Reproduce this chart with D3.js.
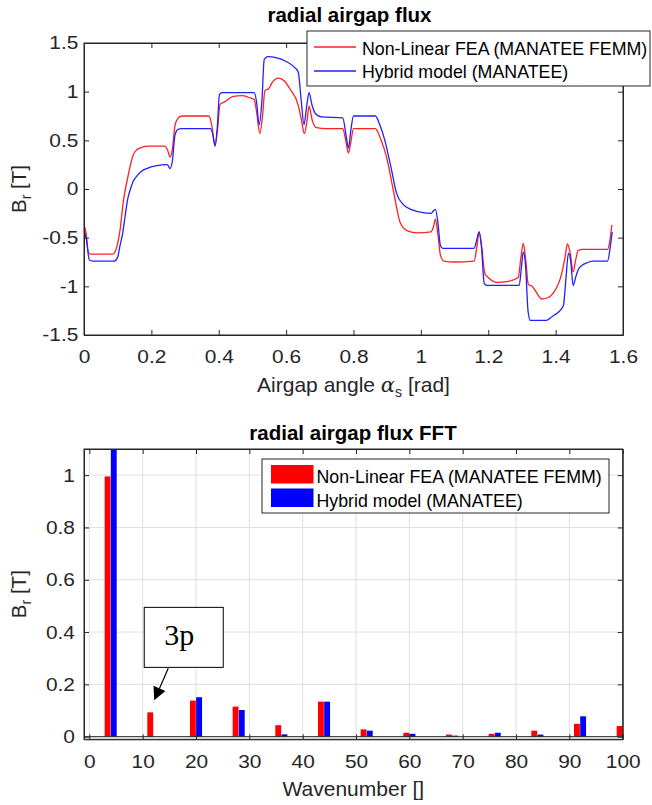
<!DOCTYPE html>
<html><head><meta charset="utf-8">
<script src="https://cdn.jsdelivr.net/npm/d3@7/dist/d3.min.js"></script>
<style>
body{margin:0;background:#fff}
svg{display:block}
</style>
</head><body>
<svg id="c" width="652" height="805" font-family="Arial, 'Liberation Sans', Helvetica, sans-serif"></svg>
<script>
// ---------- DATA ----------
const seriesNames = ["Non-Linear FEA (MANATEE FEMM)", "Hybrid model (MANATEE)"];

// radial airgap flux, Non-Linear FEA
const fluxAngleRed = [0.000,0.006,0.013,0.020,0.085,0.095,0.107,0.117,0.130,0.146,0.156,0.166,0.190,0.240,0.248,0.255,0.262,0.270,0.278,0.290,0.370,0.378,0.389,0.396,0.404,0.420,0.440,0.470,0.490,0.505,0.512,0.522,0.530,0.537,0.548,0.560,0.577,0.595,0.611,0.636,0.646,0.654,0.662,0.668,0.678,0.690,0.720,0.768,0.778,0.785,0.792,0.800,0.865,0.880,0.898,0.918,0.938,0.948,0.960,0.990,1.030,1.038,1.043,1.050,1.058,1.068,1.100,1.158,1.166,1.173,1.180,1.190,1.200,1.225,1.260,1.289,1.297,1.304,1.311,1.319,1.330,1.339,1.359,1.375,1.393,1.418,1.428,1.435,1.443,1.452,1.460,1.467,1.480,1.554,1.560,1.567];
const fluxRed = [-0.37,-0.45,-0.65,-0.67,-0.67,-0.62,-0.42,-0.12,0.12,0.35,0.40,0.42,0.44,0.44,0.40,0.33,0.40,0.65,0.72,0.75,0.75,0.68,0.45,0.60,0.87,0.90,0.95,0.96,0.94,0.92,0.80,0.57,0.75,1.01,1.03,1.10,1.14,1.11,1.03,0.86,0.70,0.57,0.70,0.85,0.70,0.63,0.62,0.62,0.48,0.37,0.48,0.62,0.62,0.52,0.33,-0.01,-0.34,-0.40,-0.43,-0.45,-0.44,-0.38,-0.31,-0.45,-0.68,-0.74,-0.75,-0.74,-0.60,-0.44,-0.58,-0.87,-0.91,-0.96,-0.95,-0.91,-0.70,-0.56,-0.72,-0.98,-1.00,-1.04,-1.13,-1.12,-1.07,-0.87,-0.70,-0.565,-0.65,-0.85,-0.72,-0.63,-0.62,-0.62,-0.55,-0.37];

// radial airgap flux, Hybrid model
const fluxAngleBlue = [0.000,0.007,0.016,0.025,0.090,0.100,0.107,0.115,0.122,0.130,0.137,0.146,0.156,0.170,0.186,0.216,0.245,0.250,0.255,0.262,0.270,0.278,0.290,0.376,0.383,0.389,0.396,0.402,0.410,0.505,0.512,0.520,0.528,0.535,0.545,0.570,0.600,0.625,0.636,0.645,0.653,0.661,0.668,0.677,0.686,0.705,0.768,0.778,0.785,0.792,0.800,0.865,0.878,0.893,0.913,0.928,0.948,0.970,0.988,1.030,1.038,1.043,1.050,1.058,1.065,1.158,1.166,1.173,1.180,1.188,1.195,1.292,1.298,1.304,1.311,1.318,1.325,1.373,1.390,1.403,1.423,1.430,1.438,1.445,1.452,1.460,1.467,1.480,1.492,1.510,1.554,1.562,1.568];
const fluxBlue = [-0.42,-0.52,-0.73,-0.74,-0.74,-0.70,-0.58,-0.45,-0.28,-0.10,-0.01,0.08,0.13,0.18,0.21,0.24,0.25,0.24,0.21,0.28,0.55,0.61,0.62,0.62,0.55,0.44,0.65,0.97,0.99,0.99,0.90,0.66,0.90,1.33,1.36,1.35,1.31,1.25,1.20,0.90,0.66,0.85,0.99,0.86,0.78,0.74,0.73,0.55,0.42,0.60,0.75,0.75,0.66,0.50,0.195,-0.045,-0.16,-0.21,-0.23,-0.25,-0.22,-0.21,-0.33,-0.58,-0.61,-0.61,-0.52,-0.44,-0.60,-0.97,-0.99,-0.99,-0.82,-0.65,-0.80,-1.25,-1.35,-1.35,-1.31,-1.28,-1.20,-0.95,-0.66,-0.75,-0.99,-0.90,-0.83,-0.78,-0.76,-0.74,-0.74,-0.60,-0.44];

// FFT
const wavenumbers = [4,12,20,28,36,44,52,60,68,76,84,92,100];
const fftRed  = [0.995,0.093,0.138,0.115,0.044,0.134,0.028,0.015,0.008,0.011,0.023,0.049,0.041];
const fftBlue = [1.16,0.0,0.151,0.102,0.009,0.134,0.023,0.011,0.004,0.015,0.008,0.078,0.02];

// ticks
const topXTicks = [0,0.2,0.4,0.6,0.8,1,1.2,1.4,1.6];
const topYTicks = [-1.5,-1,-0.5,0,0.5,1,1.5];
const botXTicks = [0,10,20,30,40,50,60,70,80,90,100];
const botYTicks = [0,0.2,0.4,0.6,0.8,1];

const annotationLabel = "3p";
const annotationWavenumber = 12;
const annotationValue = 0.093;

// ---------- DRAW ----------
const svg = d3.select("#c");
svg.append("rect").attr("width",652).attr("height",805).attr("fill","#fff");
const AX = "#262626";
const fmt = v => String(+v.toFixed(2));
const RED = "#ff0000", BLUE = "#0000ff";
const SANS = "Arial, 'Liberation Sans', Helvetica, sans-serif";

function styleAxis(g){
  g.attr("font-family",SANS).attr("font-size",null);
  g.selectAll(".domain").attr("stroke",AX);
  g.selectAll(".tick line").attr("stroke",AX);
  g.selectAll(".tick text").attr("fill",AX).style("font-size","18.5px")
    .attr("transform","scale(1.13,1)");
}
function frame(g, x, y, xt, yt, box, padX, padY){
  styleAxis(g.append("g").attr("transform",`translate(0,${box.b})`)
    .call(d3.axisBottom(x).tickValues(xt).tickFormat(fmt).tickSizeInner(-5).tickSizeOuter(0).tickPadding(padX)));
  styleAxis(g.append("g").attr("transform",`translate(0,${box.t})`)
    .call(d3.axisTop(x).tickValues(xt).tickFormat(()=>"").tickSizeInner(-5).tickSizeOuter(0)));
  styleAxis(g.append("g").attr("transform",`translate(${box.l},0)`)
    .call(d3.axisLeft(y).tickValues(yt).tickFormat(fmt).tickSizeInner(-5).tickSizeOuter(0).tickPadding(padY)));
  styleAxis(g.append("g").attr("transform",`translate(${box.r},0)`)
    .call(d3.axisRight(y).tickValues(yt).tickFormat(()=>"").tickSizeInner(-5).tickSizeOuter(0)));
  g.append("rect").attr("x",box.l).attr("y",box.t).attr("width",box.r-box.l).attr("height",box.b-box.t)
    .attr("fill","none").attr("stroke",AX).attr("stroke-width",1);
}
function yLabel(g, x, y){
  const t = g.append("text").attr("transform",`translate(${x},${y}) rotate(-90)`)
    .attr("text-anchor","middle").attr("fill",AX).style("font-size","20.5px");
  t.append("tspan").text("B");
  t.append("tspan").text("r").style("font-size","14px").attr("dy",5);
  t.append("tspan").text(" [T]").attr("dy",-5);
}

// ---- top chart ----
const T = {l:84, r:623, t:43, b:335};
const xT = d3.scaleLinear([0,1.6],[T.l,T.r]);
const yT = d3.scaleLinear([-1.5,1.5],[T.b,T.t]);
const gT = svg.append("g");
gT.append("clipPath").attr("id","clipT").append("rect")
  .attr("x",T.l).attr("y",T.t).attr("width",T.r-T.l).attr("height",T.b-T.t);
const line = d3.line().x(d=>xT(d[0])).y(d=>yT(d[1])).curve(d3.curveMonotoneX);
const redPts = fluxAngleRed.map((a,i)=>[a,fluxRed[i]]);
const bluePts = fluxAngleBlue.map((a,i)=>[a,fluxBlue[i]]);
const lines = gT.append("g").attr("clip-path","url(#clipT)");
lines.append("path").attr("d",line(redPts)).attr("fill","none").attr("stroke","#ff2020").attr("stroke-width",1.3);
lines.append("path").attr("d",line(bluePts)).attr("fill","none").attr("stroke","#2020ff").attr("stroke-width",1.3);
frame(gT, xT, yT, topXTicks, topYTicks, T, 15, 5);

gT.append("text").attr("x",(T.l+T.r)/2-4).attr("y",22).attr("text-anchor","middle")
  .attr("font-weight","bold").style("font-size","20.5px").attr("fill","#000").text("radial airgap flux");
yLabel(gT, 26, (T.t+T.b)/2);
{
  const t = gT.append("text").attr("x",(T.l+T.r)/2).attr("y",392).attr("text-anchor","middle")
    .attr("fill",AX).style("font-size","21px");
  t.append("tspan").text("Airgap angle ");
  t.append("tspan").text("α").style("font-family","'DejaVu Serif','Liberation Serif',serif").style("font-style","italic");
  t.append("tspan").text("s").style("font-size","14px").attr("dy",5);
  t.append("tspan").text(" [rad]").attr("dy",-5);
}
// top legend
{
  const L = gT.append("g");
  L.append("rect").attr("x",307).attr("y",31).attr("width",343).attr("height",55)
    .attr("fill","#fff").attr("stroke",AX);
  [["#ff2020",47,54.5],["#2020ff",71,77.5]].forEach((r,i)=>{
    L.append("line").attr("x1",314).attr("x2",356).attr("y1",r[1]).attr("y2",r[1])
      .attr("stroke",r[0]).attr("stroke-width",1.3);
    L.append("text").attr("x",362).attr("y",r[2]).attr("fill","#000")
      .style("font-size","17.8px").text(seriesNames[i]);
  });
}

// ---- bottom chart ----
const B = {l:84, r:622.7, t:449, b:739.3};
const xB = d3.scaleLinear([-1,100],[B.l,B.r]);
const yB = d3.scaleLinear([-0.01,1.1],[B.b,B.t]);
const gB = svg.append("g");
gB.append("clipPath").attr("id","clipB").append("rect")
  .attr("x",B.l).attr("y",B.t).attr("width",B.r-B.l).attr("height",B.b-B.t);
// grid
const grid = gB.append("g").attr("stroke","#e1e1e1").attr("stroke-width",1);
botXTicks.forEach(v=>grid.append("line").attr("x1",xB(v)).attr("x2",xB(v)).attr("y1",B.t).attr("y2",B.b));
botYTicks.forEach(v=>grid.append("line").attr("x1",B.l).attr("x2",B.r).attr("y1",yB(v)).attr("y2",yB(v)));
// bars
const bw = 1.1, off = 0.58;
const bars = gB.append("g").attr("clip-path","url(#clipB)");
[[fftRed,-off,RED],[fftBlue,off,BLUE]].forEach(([vals,o,col])=>{
  bars.selectAll(null).data(wavenumbers.map((w,i)=>({w,v:vals[i]}))).join("rect")
    .attr("x",d=>xB(d.w+o-bw/2)).attr("width",xB(bw)-xB(0))
    .attr("y",d=>yB(Math.max(0,d.v))).attr("height",d=>Math.abs(yB(0)-yB(d.v)))
    .attr("fill",col);
});
// baseline
gB.append("line").attr("x1",B.l).attr("x2",B.r).attr("y1",yB(0)).attr("y2",yB(0)).attr("stroke",AX);
frame(gB, xB, yB, botXTicks, botYTicks, B, 16, 8);

gB.append("text").attr("x",353).attr("y",440).attr("text-anchor","middle")
  .attr("font-weight","bold").style("font-size","20.5px").attr("fill","#000").text("radial airgap flux FFT");
yLabel(gB, 26, (B.t+B.b)/2);
gB.append("text").attr("x",(B.l+B.r)/2).attr("y",796).attr("text-anchor","middle")
  .attr("fill",AX).style("font-size","21px").text("Wavenumber []");
// bottom legend
{
  const L = gB.append("g");
  L.append("rect").attr("x",262).attr("y",459).attr("width",347).attr("height",54)
    .attr("fill","#fff").attr("stroke",AX);
  [[RED,465,483],[BLUE,488.5,506.5]].forEach((r,i)=>{
    L.append("rect").attr("x",271).attr("y",r[1]).attr("width",42.5).attr("height",18.5).attr("fill",r[0]);
    L.append("text").attr("x",316.5).attr("y",r[2]).attr("fill","#000")
      .style("font-size","17.8px").text(seriesNames[i]);
  });
}
// annotation "3p"
{
  const tipX = xB(annotationWavenumber - off) + 4, tipY = yB(annotationValue) - 12;
  const tailX = tipX + 14, tailY = tipY - 32;
  const A = gB.append("g");
  A.append("rect").attr("x",tipX-10).attr("y",tipY-93).attr("width",79).attr("height",60)
    .attr("fill","#fff").attr("stroke","#000").attr("stroke-width",1);
  A.append("text").attr("x",tipX+25).attr("y",tipY-55).attr("text-anchor","middle")
    .style("font-family","'Liberation Serif','Times New Roman',serif").style("font-size","30px")
    .attr("fill","#000").text(annotationLabel);
  const dx = tipX-tailX, dy = tipY-tailY, len = Math.hypot(dx,dy), ux = dx/len, uy = dy/len;
  const hl = 13, hw = 6.5;
  const bx = tipX-ux*hl, by = tipY-uy*hl;
  A.append("line").attr("x1",tailX).attr("y1",tailY).attr("x2",bx).attr("y2",by).attr("stroke","#000").attr("stroke-width",1.2);
  A.append("path").attr("d",`M${tipX},${tipY}L${bx-uy*hw},${by+ux*hw}L${bx+uy*hw},${by-ux*hw}Z`).attr("fill","#000");
}
</script>
</body></html>
